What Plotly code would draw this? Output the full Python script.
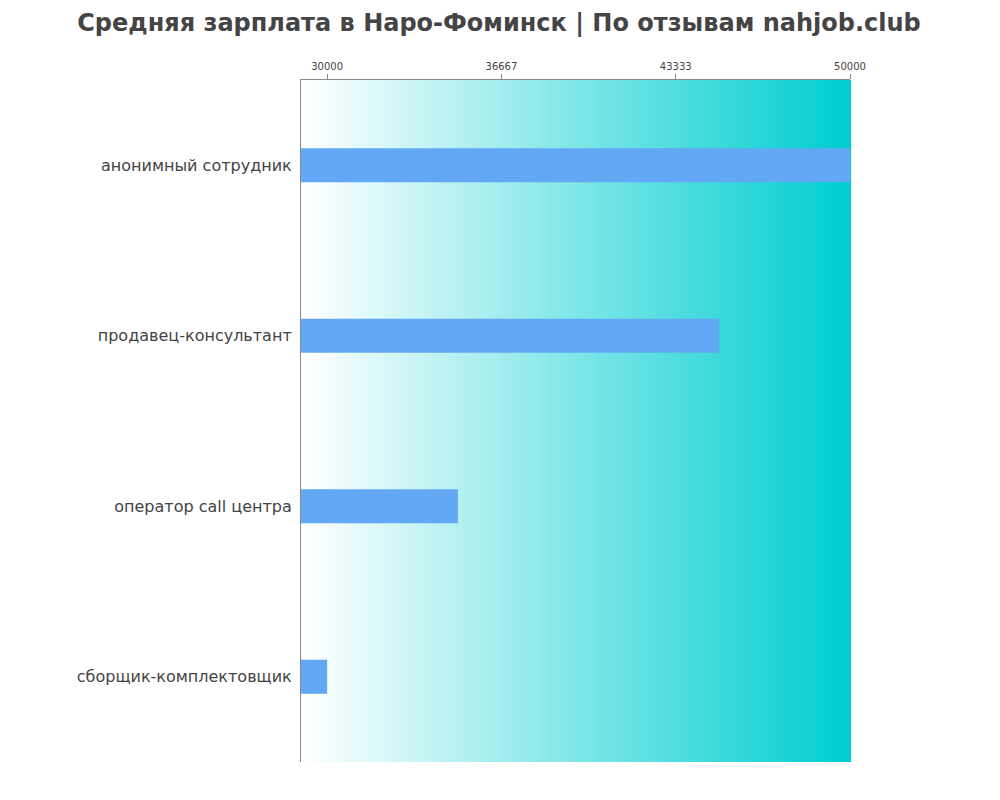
import plotly.graph_objects as go

categories = ["анонимный сотрудник", "продавец-консультант", "оператор call центра", "сборщик-комплектовщик"]
salaries = [50000, 45000, 35000, 30000]
tick_vals = [30000, 36667, 43333, 50000]
x_min, x_max = 29000, 50000

fig = go.Figure(go.Bar(
    y=categories, x=[s - x_min for s in salaries], base=x_min, orientation="h",
    marker=dict(color="#63a8f5", line=dict(width=0)), width=0.2,
))

# gradient background
n = 120
shapes = []
for i in range(n):
    t = i / (n - 1)
    r = int(255 + (0 - 255) * t)
    g = int(255 + (206 - 255) * t)
    b = int(255 + (209 - 255) * t)
    shapes.append(dict(type="rect", xref="paper", yref="paper", x0=i / n, x1=(i + 1) / n + 0.002,
                       y0=0, y1=1, fillcolor=f"rgb({r},{g},{b})", line=dict(width=0), layer="below"))
fig.update_layout(
    shapes=shapes,
    width=1000, height=800,
    margin=dict(l=293, r=158, t=72, b=46),
    paper_bgcolor="white", plot_bgcolor="white",
    title=dict(text="<b>Средняя зарплата в Наро-Фоминск | По отзывам nahjob.club</b>",
               x=0.491, xanchor="center", y=0.992, yanchor="top",
               font=dict(family="DejaVu Sans", size=24, color="#444")),
    xaxis=dict(range=[x_min, x_max], side="top", tickvals=tick_vals, ticktext=[str(v) for v in tick_vals],
               showgrid=False, zeroline=False, ticks="outside", ticklen=5, tickcolor="#888",
               showline=True, linecolor="#888", tickfont=dict(family="DejaVu Sans", size=10, color="#444")),
    yaxis=dict(autorange="reversed", showgrid=False, showline=True, linecolor="#888",
               ticks="", ticksuffix=" ", tickfont=dict(family="DejaVu Sans", size=16, color="#444")),
    showlegend=False,
)
fig.write_html("out.html")
